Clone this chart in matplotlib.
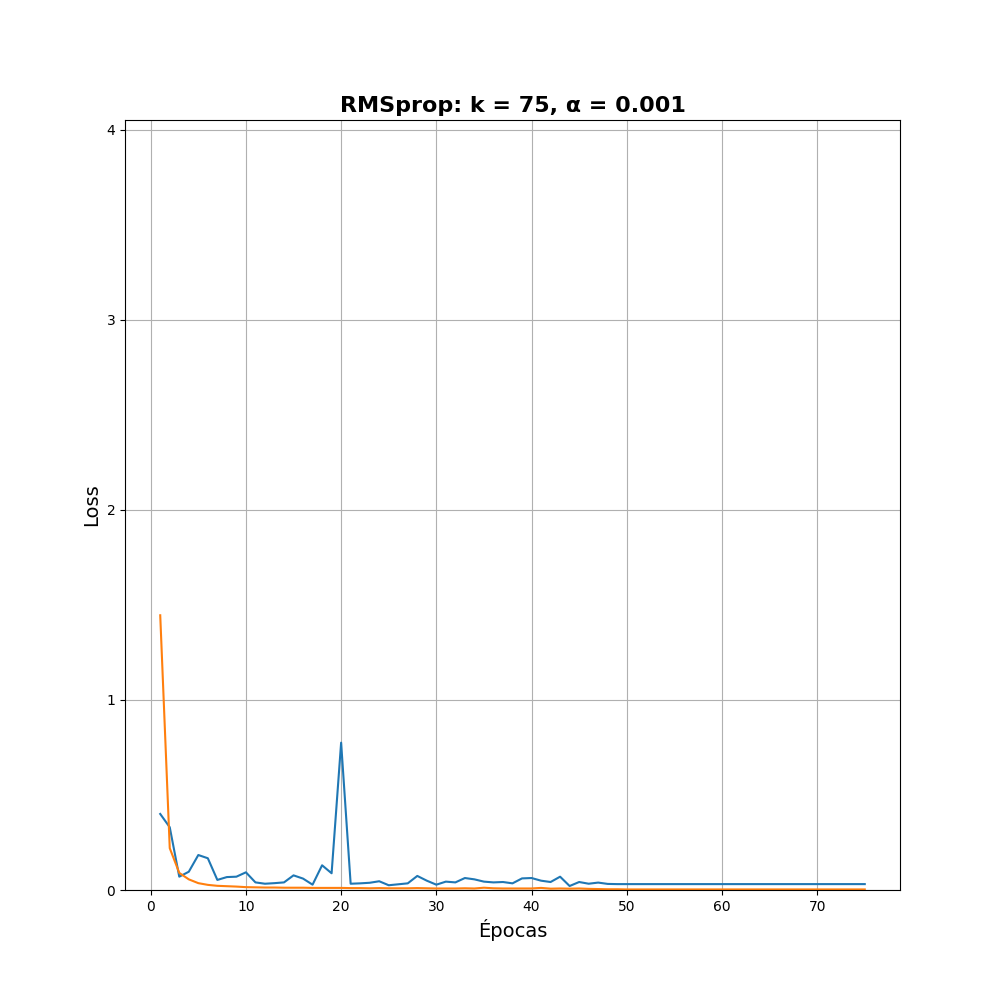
import matplotlib
matplotlib.use("Agg")
import matplotlib.pyplot as plt

epochs = list(range(1, 76))

train_loss = [0.40, 0.33, 0.07, 0.096, 0.184, 0.167, 0.053, 0.068, 0.07, 0.093,
              0.04, 0.033, 0.036, 0.04, 0.077, 0.06, 0.028, 0.13, 0.088, 0.775,
              0.033, 0.035, 0.038, 0.046, 0.025, 0.03, 0.035, 0.074, 0.049, 0.028,
              0.044, 0.04, 0.063, 0.056, 0.044, 0.04, 0.042, 0.035, 0.061, 0.063,
              0.049, 0.042, 0.07, 0.021, 0.042, 0.033, 0.039, 0.032, 0.031, 0.031,
              0.031, 0.031, 0.031, 0.031, 0.031, 0.031, 0.031, 0.031, 0.031, 0.031,
              0.031, 0.031, 0.031, 0.031, 0.031, 0.031, 0.031, 0.031, 0.031, 0.031,
              0.031, 0.031, 0.031, 0.031, 0.031]

val_loss = [1.445, 0.22, 0.09, 0.056, 0.036, 0.027, 0.022, 0.02, 0.018, 0.015,
            0.014, 0.013, 0.013, 0.012, 0.012, 0.012, 0.011, 0.011, 0.011, 0.011,
            0.010, 0.010, 0.009, 0.010, 0.009, 0.009, 0.009, 0.010, 0.009, 0.008,
            0.008, 0.008, 0.009, 0.008, 0.012, 0.009, 0.008, 0.008, 0.008, 0.008,
            0.011, 0.007, 0.008, 0.007, 0.008, 0.006, 0.005, 0.004, 0.004, 0.003,
            0.003, 0.003, 0.003, 0.003, 0.003, 0.003, 0.003, 0.003, 0.003, 0.003,
            0.003, 0.003, 0.003, 0.003, 0.003, 0.003, 0.003, 0.003, 0.003, 0.003,
            0.003, 0.003, 0.003, 0.003, 0.003]

fig, ax = plt.subplots(figsize=(10, 10), dpi=100)
ax.plot(epochs, train_loss, color="#1f77b4", linewidth=1.5)
ax.plot(epochs, val_loss, color="#ff7f0e", linewidth=1.5)
ax.set_ylim(0, 4.05)
ax.set_yticks([0, 1, 2, 3, 4])
ax.set_title("RMSprop: k = 75, α = 0.001", fontsize=16, fontweight="bold")
ax.set_xlabel("Épocas", fontsize=14)
ax.set_ylabel("Loss", fontsize=14)
ax.grid(True)
fig.savefig("out.png", dpi=100)
